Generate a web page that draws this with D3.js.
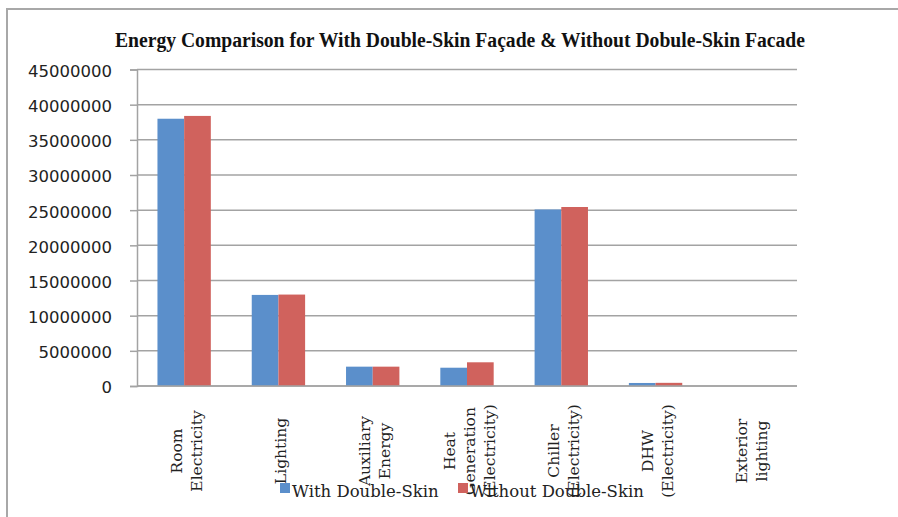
<!DOCTYPE html>
<html>
<head>
<meta charset="utf-8">
<script src="https://cdn.jsdelivr.net/npm/d3@7"></script>
<style>
  html, body { margin: 0; padding: 0; background: #fff; }
  svg { display: block; }
</style>
</head>
<body>
<svg id="chart" width="898" height="517"></svg>
<script>
// Annual energy use by end-use category (kWh)
const categories = [
  ["Room", "Electricity"],
  ["Lighting"],
  ["Auxiliary", "Energy"],
  ["Heat", "Generation", "(Electricity)"],
  ["Chiller", "(Electricity)"],
  ["DHW", "(Electricity)"],
  ["Exterior", "lighting"]
];
const seriesNames = ["With Double-Skin", "Without Double-Skin"];
const withDoubleSkin    = [38000000, 12950000, 2750000, 2600000, 25100000, 430000, 0];
const withoutDoubleSkin = [38400000, 13000000, 2750000, 3370000, 25450000, 450000, 0];
const yTicks = [0, 5000000, 10000000, 15000000, 20000000, 25000000, 30000000, 35000000, 40000000, 45000000];
const colors = ["#5b8fcb", "#d0625d"];

const svg = d3.select("#chart");
const catIdx = d3.range(categories.length);

// Outer chart frame
svg.append("path")
  .attr("d", "M7,520 L7,9 L900,9")
  .attr("fill", "none")
  .attr("stroke", "#a8a8a8")
  .attr("stroke-width", 2);

// Title
svg.append("text")
  .attr("x", 115).attr("y", 47)
  .attr("textLength", 690)
  .attr("lengthAdjust", "spacingAndGlyphs")
  .attr("font-family", "'Liberation Serif', serif")
  .attr("font-weight", "bold")
  .attr("font-size", 20)
  .attr("fill", "#111")
  .text("Energy Comparison for With Double-Skin Façade & Without Dobule-Skin Facade");

// Scales
const y = d3.scaleLinear().domain([0, 45000000]).range([386, 69.5]);
const x = d3.scaleBand().domain(catIdx).range([137, 797]);
const pairWidth = x.bandwidth() * 0.566;
const xSub = d3.scaleBand().domain([0, 1]).range([0, pairWidth]);

// Gridlines
svg.append("g")
  .selectAll("line")
  .data(yTicks)
  .join("line")
  .attr("x1", 137).attr("x2", 797)
  .attr("y1", d => y(d)).attr("y2", d => y(d))
  .attr("stroke", "#a3a3a3")
  .attr("stroke-width", 1.5);

// Y axis
const yAxis = d3.axisLeft(y).tickValues(yTicks).tickSize(7).tickFormat(d3.format("d")).tickPadding(18);
const gy = svg.append("g").attr("transform", "translate(137,0)").call(yAxis);
gy.select(".domain").attr("stroke", "#a3a3a3").attr("stroke-width", 1.5);
gy.selectAll(".tick line").attr("stroke", "#a3a3a3").attr("stroke-width", 1.5);
gy.selectAll(".tick text")
  .attr("font-family", "'DejaVu Sans', sans-serif")
  .attr("font-size", 16.5)
  .attr("fill", "#222")
  .attr("dy", "0.42em");

// Bars
const series = [withDoubleSkin, withoutDoubleSkin];
const barGroups = svg.append("g")
  .selectAll("g")
  .data(catIdx)
  .join("g")
  .attr("transform", i => `translate(${x(i) + (x.bandwidth() - pairWidth) / 2},0)`);

barGroups.selectAll("rect")
  .data(i => series.map((s, k) => ({ k, v: s[i] })))
  .join("rect")
  .attr("x", d => xSub(d.k))
  .attr("width", xSub.bandwidth())
  .attr("y", d => y(d.v))
  .attr("height", d => y(0) - y(d.v))
  .attr("fill", d => colors[d.k]);

// Baseline over bars
svg.append("line")
  .attr("x1", 137).attr("x2", 797)
  .attr("y1", y(0)).attr("y2", y(0))
  .attr("stroke", "#a3a3a3").attr("stroke-width", 1.5);

// Category labels (rotated, multi-line)
const lh = 20;
const labelG = svg.append("g")
  .selectAll("g")
  .data(catIdx)
  .join("g")
  .attr("transform", i => `translate(${x(i) + x.bandwidth() / 2 + 2},451)`);

labelG.each(function(i) {
  const lines = categories[i];
  const n = lines.length;
  d3.select(this).selectAll("text")
    .data(lines)
    .join("text")
    .attr("transform", (t, j) => `translate(${(j - (n - 1) / 2) * lh + 5.5},0) rotate(-90)`)
    .attr("text-anchor", "middle")
    .attr("font-family", "'DejaVu Serif', serif")
    .attr("font-size", 15.5)
    .attr("fill", "#222")
    .text(t => t);
});

// Legend
const legendX = [280, 458];
const legend = svg.append("g")
  .selectAll("g")
  .data(seriesNames)
  .join("g")
  .attr("transform", (d, k) => `translate(${legendX[k]},0)`);
legend.append("rect")
  .attr("x", 0).attr("y", 483)
  .attr("width", 10).attr("height", 10)
  .attr("fill", (d, k) => colors[k]);
legend.append("text")
  .attr("x", 12).attr("y", 497)
  .attr("font-family", "'DejaVu Serif', serif")
  .attr("font-size", 16.5)
  .attr("fill", "#222")
  .text(d => d);
</script>
</body>
</html>
